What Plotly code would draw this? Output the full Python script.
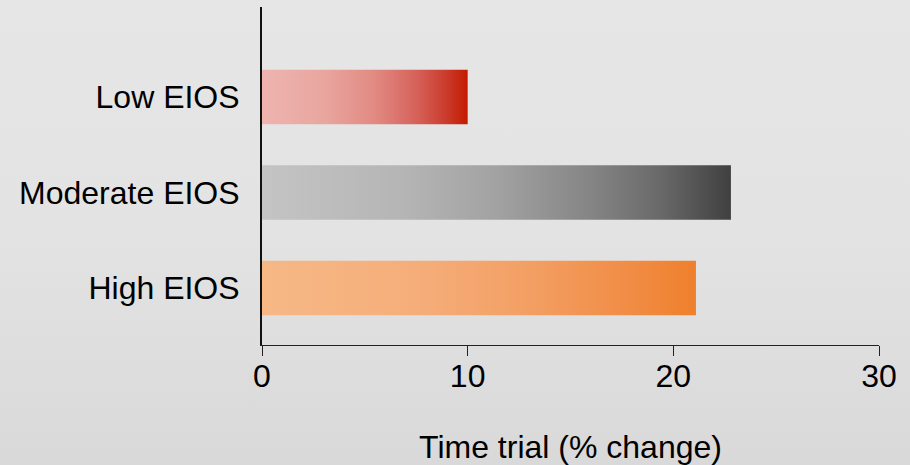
import base64
import plotly.graph_objects as go

# Data
categories = ["High EIOS", "Moderate EIOS", "Low EIOS"]
values = [21.1, 22.8, 10.0]
x_ticks = [0, 10, 20, 30]

# Horizontal colour ramps for each bar (light on the left, saturated on the right)
ramps = {
    "Low EIOS": [[0, "#eeb4b0"], [0.3, "#e9a69f"], [0.55, "#e18a82"],
                 [0.75, "#d6625a"], [0.9, "#ca3a2a"], [1, "#c41a00"]],
    "Moderate EIOS": [[0, "#c4c4c4"], [0.3, "#b5b5b5"], [0.5, "#a2a2a2"],
                      [0.7, "#858585"], [0.85, "#696969"], [1, "#404040"]],
    "High EIOS": [[0, "#f6b886"], [0.35, "#f5ae7a"], [0.6, "#f3a065"],
                  [0.85, "#f18c45"], [1, "#ef802c"]],
}

BAR_HALF = 0.285
FONT = "Liberation Sans, Arial, Helvetica, sans-serif"

fig = go.Figure()

for i, (cat, val) in enumerate(zip(categories, values)):
    fig.add_trace(go.Scatter(
        x=[0, val, val, 0, 0],
        y=[i - BAR_HALF, i - BAR_HALF, i + BAR_HALF, i + BAR_HALF, i - BAR_HALF],
        mode="lines",
        line=dict(width=0),
        fill="toself",
        fillgradient=dict(type="horizontal", colorscale=ramps[cat]),
        name=cat,
        hoverinfo="skip",
        showlegend=False,
    ))

# Empty trace so the companion tick axis gets rendered
fig.add_trace(go.Scatter(x=[], y=[], xaxis="x2", yaxis="y",
                         showlegend=False, hoverinfo="skip"))

# Soft vertical background gradient for the whole page
svg = (
    '<svg xmlns="http://www.w3.org/2000/svg" width="10" height="100" preserveAspectRatio="none">'
    '<defs><linearGradient id="g" x1="0" y1="0" x2="0" y2="1">'
    '<stop offset="0" stop-color="#e6e6e6"/><stop offset="0.5" stop-color="#e3e3e3"/>'
    '<stop offset="1" stop-color="#d9d9d9"/></linearGradient></defs>'
    '<rect width="10" height="100" fill="url(#g)"/></svg>'
)
bg_src = "data:image/svg+xml;base64," + base64.b64encode(svg.encode()).decode()

W, H = 910, 465
L, R, T, B = 262, 31, 7, 120
pw, ph = W - L - R, H - T - B

fig.add_layout_image(dict(
    source=bg_src, xref="paper", yref="paper",
    x=-L / pw, y=1 + T / ph, sizex=W / pw, sizey=H / ph,
    xanchor="left", yanchor="top", sizing="stretch", layer="below",
))

fig.update_layout(
    width=W, height=H,
    margin=dict(l=L, r=R, t=T, b=B, autoexpand=False),
    paper_bgcolor="#e3e3e3",
    plot_bgcolor="rgba(0,0,0,0)",
    font=dict(family=FONT, size=32, color="#000000"),
    # labelled axis: short invisible ticks keep the numbers close to the line
    xaxis=dict(
        range=[0, 30], tickvals=x_ticks, ticktext=[str(t) for t in x_ticks],
        showgrid=False, zeroline=False, automargin=False,
        showline=True, linecolor="#222222", linewidth=1,
        ticks="outside", ticklen=3, tickcolor="rgba(0,0,0,0)",
        tickfont=dict(size=32),
        title=dict(text="Time trial (% change)", font=dict(size=32), standoff=50),
        fixedrange=True,
    ),
    # companion axis carrying the longer visible tick marks
    xaxis2=dict(
        range=[0, 30], tickvals=x_ticks, overlaying="x", side="bottom",
        showgrid=False, zeroline=False, showline=False, automargin=False,
        ticks="outside", ticklen=10, tickwidth=1, tickcolor="#222222",
        showticklabels=False, fixedrange=True,
    ),
    yaxis=dict(
        range=[-0.597, 2.942],
        tickvals=list(range(len(categories))), ticktext=categories,
        showgrid=False, zeroline=False, automargin=False,
        showline=True, linecolor="#111111", linewidth=2,
        ticks="", ticklabelstandoff=14,
        tickfont=dict(size=32),
        fixedrange=True,
    ),
)

fig.write_html("out.html")
